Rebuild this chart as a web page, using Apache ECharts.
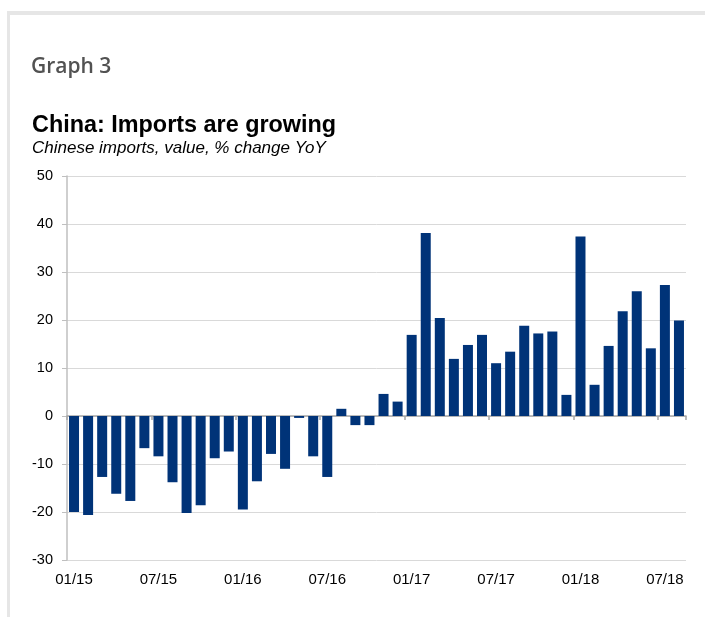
<!DOCTYPE html>
<html>
<head>
<meta charset="utf-8">
<script src="https://cdn.jsdelivr.net/npm/echarts@6/dist/echarts.min.js"></script>
<style>
  html, body { margin: 0; padding: 0; background: #ffffff; }
  #chart { width: 705px; height: 617px; }
</style>
</head>
<body>
<div id="chart"></div>
<script>
// Monthly categories, 01/15 .. 08/18
const months = [
  '01/15','02/15','03/15','04/15','05/15','06/15','07/15','08/15','09/15','10/15','11/15','12/15',
  '01/16','02/16','03/16','04/16','05/16','06/16','07/16','08/16','09/16','10/16','11/16','12/16',
  '01/17','02/17','03/17','04/17','05/17','06/17','07/17','08/17','09/17','10/17','11/17','12/17',
  '01/18','02/18','03/18','04/18','05/18','06/18','07/18','08/18'
];

// Chinese imports, value, % change YoY
const importsYoY = [
  -20.0, -20.6, -12.7, -16.2, -17.7, -6.7, -8.4, -13.8, -20.2, -18.6, -8.8, -7.4,
  -19.5, -13.6, -7.9, -11.0, -0.4, -8.4, -12.7, 1.5, -1.9, -1.9, 4.6, 3.0,
  16.9, 38.1, 20.4, 11.9, 14.8, 16.9, 11.0, 13.4, 18.8, 17.2, 17.6, 4.4,
  37.4, 6.5, 14.6, 21.8, 26.0, 14.1, 27.3, 19.9
];

// Value axis range and step
const yMin = -30;
const yMax = 50;
const yStep = 10;

const chart = echarts.init(document.getElementById('chart'), null, { renderer: 'canvas' });

const axisGrey = '#bfbfbf';
const gridGrey = '#d9d9d9';
const labelFont = { color: '#000000', fontFamily: 'Liberation Sans, Arial, sans-serif', fontSize: 14.5 };

chart.setOption({
  backgroundColor: '#ffffff',
  animation: false,
  graphic: [
    // outer frame lines (top and left)
    { type: 'rect', shape: { x: 7, y: 11, width: 698, height: 4 }, style: { fill: '#e6e6e6' }, silent: true },
    { type: 'rect', shape: { x: 7, y: 11, width: 3, height: 606 }, style: { fill: '#e6e6e6' }, silent: true },
    {
      type: 'text', left: 31, top: 57,
      style: { text: 'Graph 3', fill: '#525252', font: '600 21px "Open Sans", sans-serif' }
    },
    {
      type: 'text', left: 32, top: 114,
      style: { text: 'China: Imports are growing', fill: '#000000', font: 'bold 23.4px "Liberation Sans", Arial, sans-serif' }
    },
    {
      type: 'text', left: 32, top: 140,
      style: { text: 'Chinese imports, value, % change YoY', fill: '#000000', font: 'italic 17px "Liberation Sans", Arial, sans-serif' }
    }
  ],
  grid: { left: 67, right: 19, top: 176, bottom: 57, containLabel: false },
  xAxis: [
    {
      type: 'category',
      data: months,
      boundaryGap: true,
      position: 'bottom',
      axisLine: { show: false, onZero: false },
      axisTick: { show: false },
      axisLabel: { ...labelFont, fontSize: 15, interval: 5, margin: 12 },
      splitLine: { show: false }
    },
    {
      // zero line with dividers every six months
      type: 'category',
      data: months,
      boundaryGap: true,
      position: 'bottom',
      axisLine: { show: true, onZero: true, lineStyle: { color: '#a6a6a6', width: 1.5 } },
      axisTick: { show: true, interval: 5, length: 4, lineStyle: { color: '#a6a6a6', width: 1.5 } },
      axisLabel: { show: false },
      splitLine: { show: false }
    }
  ],
  yAxis: {
    type: 'value',
    min: yMin,
    max: yMax,
    interval: yStep,
    axisLine: { show: true, lineStyle: { color: axisGrey, width: 1.5 } },
    axisTick: { show: true, length: 5, lineStyle: { color: axisGrey } },
    axisLabel: { ...labelFont, margin: 14 },
    splitLine: { show: true, lineStyle: { color: gridGrey, width: 1 } }
  },
  series: [
    {
      type: 'bar',
      xAxisIndex: 0,
      data: importsYoY,
      barWidth: 10,
      itemStyle: { color: '#003378' },
      z: 1
    }
  ]
});
</script>
</body>
</html>
